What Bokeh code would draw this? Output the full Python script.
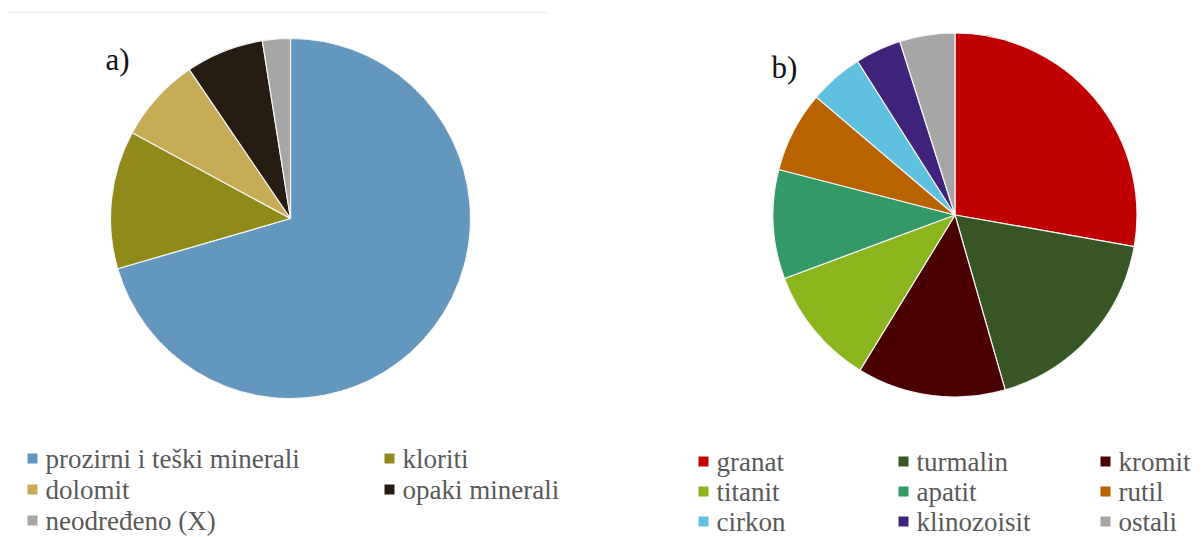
import numpy as np
from bokeh.plotting import figure
from bokeh.models import Range1d, ColumnDataSource
from bokeh.core.properties import value
from bokeh.embed import file_html
from bokeh.resources import INLINE

# ---------------- data ----------------
a_labels = ["prozirni i teški minerali", "kloriti", "dolomit", "opaki minerali", "neodređeno (X)"]
a_values = [70.5, 12.4, 7.6, 7.0, 2.5]
a_colors = ["#6497BD", "#8F8A1A", "#C8AC55", "#261C12", "#A6A6A6"]

b_labels = ["granat", "turmalin", "kromit", "titanit", "apatit", "rutil",
            "cirkon", "klinozoisit", "ostali"]
b_values = [27.8, 17.8, 13.2, 10.6, 9.7, 7.2, 4.8, 4.1, 4.9]
b_colors = ["#C00000", "#375623", "#4A0000", "#8BB51D", "#339966", "#B86200",
            "#60C0E0", "#40237A", "#A6A6A6"]

# ---------------- layout (picture pixel coords) ----------------
W, H = 1203, 537
def Y(py):
    return H - py

p = figure(width=W, height=H, output_backend="svg", toolbar_location=None,
           x_range=Range1d(0, W), y_range=Range1d(0, H), min_border=0)
p.axis.visible = False
p.grid.visible = False
p.outline_line_color = None
p.background_fill_color = "white"

FONT = value("Liberation Serif")

# faint top rule
p.segment(x0=[8], y0=[Y(12)], x1=[548], y1=[Y(12)], line_color="#F0F0F0", line_width=2)


def pie(cx, cy, r, vals, cols):
    v = np.array(vals, dtype=float)
    frac = v / v.sum()
    cum = np.concatenate([[0], np.cumsum(frac)])
    start = np.pi / 2 - cum[:-1] * 2 * np.pi
    end = np.pi / 2 - cum[1:] * 2 * np.pi
    src = ColumnDataSource(dict(x=[cx] * len(v), y=[cy] * len(v), s=start, e=end, c=cols))
    p.wedge(x="x", y="y", radius=r, start_angle="s", end_angle="e", direction="clock",
            fill_color="c", line_color="#F4F4F4", line_width=1.2, source=src)


pie(290, Y(218), 180, a_values, a_colors)
pie(954.5, Y(214.5), 182, b_values, b_colors)

# panel labels
p.text(x=[105], y=[Y(59)], text=["a)"], text_font=FONT, text_font_size="31px",
       text_color="#111111", text_baseline="alphabetic")
p.text(x=[771], y=[Y(67)], text=["b)"], text_font=FONT, text_font_size="31px",
       text_color="#111111", text_baseline="alphabetic")


def legend(labels, cols, col_x, row_y, ncol):
    xs, ys = [], []
    for i in range(len(labels)):
        xs.append(col_x[i % ncol])
        ys.append(Y(row_y[i // ncol]))
    p.scatter(x=xs, y=ys, marker="square", size=10, fill_color=cols, line_color=None)
    p.text(x=[x + 13 for x in xs], y=ys, text=labels, text_font=FONT,
           text_font_size="27px", text_color="#595959", text_baseline="middle",
           text_align="left")


legend(a_labels, a_colors, [32, 389], [458, 489, 520], 2)
legend(b_labels, b_colors, [703, 903, 1105], [461, 491, 521], 3)

open("out.html", "w").write(file_html(p, INLINE))
